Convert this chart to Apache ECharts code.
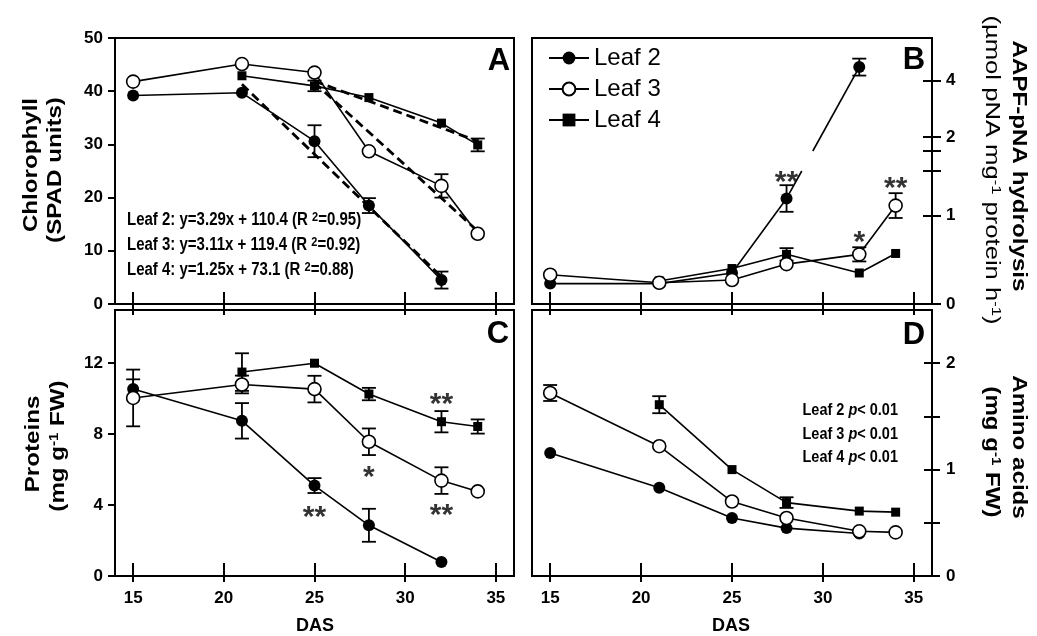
<!DOCTYPE html>
<html>
<head>
<meta charset="utf-8">
<script src="https://cdn.jsdelivr.net/npm/echarts@6.0.0/dist/echarts.min.js"></script>
<style>
  html, body { margin: 0; background: #fff; }
  #main { width: 1037px; height: 636px; }
</style>
</head>
<body>
<div id="main"></div>
<script>
// days after sowing
var das = [15, 21, 25, 28, 32, 34]
var dasTicks = [15, 20, 25, 30, 35]

// A - chlorophyll (SPAD units)
var chlL2 = [39.2, 39.7, 30.6, 18.5, 4.5, null]
var chlL3 = [41.8, 45.1, 43.5, 28.7, 22.2, 13.2]
var chlL4 = [null, 42.9, 41.0, 38.8, 34.0, 29.9]
var chlErrL2 = [0, 0, 3.0, 1.4, 1.6, 0]
var chlErrL3 = [0, 0, 0, 0, 2.2, 0]
var chlErrL4 = [0, 0, 1.0, 0, 0, 1.2]
// regression lines (end points)
var fitL2 = [[21, 41.3], [32, 5.1]]
var fitL3 = [[25, 41.6], [34, 13.7]]
var fitL4 = [[25, 41.9], [34, 30.6]]
var chlTicks = [0, 10, 20, 30, 40, 50]

// B - AAPF-pNA hydrolysis (broken axis)
var aapL2 = [0.23, 0.23, 0.35, 1.19, 4.47, null]
var aapL3 = [0.33, 0.24, 0.27, 0.45, 0.56, 1.11]
var aapL4 = [null, 0.26, 0.40, 0.56, 0.35, 0.57]
var aapErrL2 = [0, 0, 0, 0.15, 0.3, 0]
var aapErrL3 = [0, 0, 0, 0, 0.08, 0.14]
var aapErrL4 = [0, 0, 0, 0.07, 0, 0]
var aapBreak = 1.5
var aapLowTicks = [0, 1, 1.5]
var aapLowLabels = [0, 1]
var aapUpTicks = [1.5, 2, 4]
var aapUpLabels = [2, 4]
var aapStars = [[28, 1.45, '**'], [32, 0.77, '*'], [34, 1.38, '**']]

// C - proteins
var protL2 = [10.54, 8.75, 5.1, 2.86, 0.79, null]
var protL3 = [10.04, 10.8, 10.54, 7.57, 5.38, 4.77]
var protL4 = [null, 11.5, 12.0, 10.26, 8.7, 8.43]
var protErrL2 = [0.55, 1.0, 0.42, 0.93, 0, 0]
var protErrL3 = [1.6, 0.5, 0.75, 0.75, 0.75, 0]
var protErrL4 = [0, 1.06, 0, 0.35, 0.6, 0.4]
var protTicks = [0, 4, 8, 12]
var protStars = [[32, 10.04, '**'], [28, 5.95, '*'], [25, 3.7, '**'], [32, 3.81, '**']]

// D - amino acids
var aaL2 = [1.155, 0.83, 0.545, 0.45, 0.40, null]
var aaL3 = [1.72, 1.22, 0.70, 0.545, 0.42, 0.41]
var aaL4 = [null, 1.61, 1.0, 0.69, 0.61, 0.60]
var aaErrL2 = [0, 0, 0, 0, 0, 0]
var aaErrL3 = [0.075, 0, 0, 0, 0, 0]
var aaErrL4 = [0, 0.08, 0, 0.05, 0, 0]
var aaTicks = [0, 0.5, 1, 1.5, 2]
var aaLabels = [0, 1, 2]

var FONT = '"Liberation Sans", Arial, Helvetica, sans-serif'
var black = '#000'

function pts(vals) {
  var out = []
  for (var i = 0; i < das.length; i++) {
    if (vals[i] != null) out.push([das[i], vals[i]])
  }
  return out
}
function errPts(vals, errs, keep) {
  var out = []
  for (var i = 0; i < das.length; i++) {
    if (vals[i] == null || !errs[i]) continue
    if (keep && !keep(vals[i])) continue
    out.push([das[i], vals[i] - errs[i], vals[i] + errs[i]])
  }
  return out
}
function isLow(v) { return v <= aapBreak }
function isUp(v) { return v > aapBreak }

var styles = {
  'Leaf 2': { symbol: 'circle', size: 12, item: { color: black } },
  'Leaf 3': { symbol: 'circle', size: 13, item: { color: '#fff', borderColor: black, borderWidth: 1.6 } },
  'Leaf 4': { symbol: 'rect', size: 9, item: { color: black } }
}

var grids = [
  { left: 115, top: 38, width: 399, height: 266, show: true },   // A
  { left: 532, top: 38, width: 400, height: 266, show: true },   // B frame
  { left: 532, top: 38, width: 400, height: 113, show: false },  // B upper
  { left: 532, top: 171, width: 400, height: 133, show: false }, // B lower
  { left: 115, top: 310, width: 399, height: 266, show: true },  // C
  { left: 532, top: 310, width: 400, height: 266, show: true }   // D
]
grids.forEach(function (g) {
  g.borderColor = black
  g.borderWidth = 2
  g.backgroundColor = 'transparent'
  g.outerBoundsMode = 'none'
})

var tickLine = { color: black, width: 2 }
var labelFont = { color: black, fontSize: 17, fontWeight: 'bold', fontFamily: FONT }

function xAxisPair(gi, withLabels, outLen, inLen) {
  return [
    {
      type: 'value', gridIndex: gi, min: 14, max: 36, position: 'bottom',
      axisLine: { show: false, onZero: false },
      axisTick: { show: true, inside: false, length: outLen, customValues: dasTicks, lineStyle: tickLine },
      axisLabel: Object.assign({ show: withLabels, customValues: dasTicks, margin: 14 }, labelFont),
      splitLine: { show: false }
    },
    {
      type: 'value', gridIndex: gi, min: 14, max: 36, position: 'bottom',
      axisLine: { show: false, onZero: false },
      axisTick: { show: true, inside: true, length: inLen, customValues: dasTicks, lineStyle: tickLine },
      axisLabel: { show: false },
      splitLine: { show: false }
    }
  ]
}
function hiddenX(gi) {
  return { type: 'value', gridIndex: gi, min: 14, max: 36, show: false }
}
function yAxisCfg(gi, pos, min, max, ticks, labels, outLen, inLen) {
  var out = [{
    type: 'value', gridIndex: gi, position: pos, min: min, max: max,
    axisLine: { show: false, onZero: false },
    axisTick: { show: true, inside: false, length: outLen, customValues: ticks, lineStyle: tickLine },
    axisLabel: Object.assign({ show: true, customValues: labels, margin: pos === 'left' ? 12 : 14 }, labelFont),
    splitLine: { show: false }
  }]
  if (inLen) {
    out.push({
      type: 'value', gridIndex: gi, position: pos, min: min, max: max,
      axisLine: { show: false, onZero: false },
      axisTick: { show: true, inside: true, length: inLen, customValues: ticks, lineStyle: tickLine },
      axisLabel: { show: false },
      splitLine: { show: false }
    })
  }
  return out
}

var xAxes = []
  .concat(xAxisPair(0, false, 11, 12))  // 0,1  A
  .concat(xAxisPair(1, false, 11, 12))  // 2,3  B frame
  .concat([hiddenX(2), hiddenX(3)])     // 4,5  B upper / lower
  .concat(xAxisPair(4, true, 6, 13))    // 6,7  C
  .concat(xAxisPair(5, true, 6, 13))    // 8,9  D

var yAxes = []
  .concat(yAxisCfg(0, 'left', 0, 50, chlTicks, chlTicks, 7))                          // 0 A
  .concat([{ type: 'value', gridIndex: 1, min: 0, max: 1, show: false }])             // 1 B frame
  .concat(yAxisCfg(2, 'right', aapBreak, 5.5, aapUpTicks, aapUpLabels, 9, 9))         // 2,3 B upper
  .concat(yAxisCfg(3, 'right', 0, aapBreak, aapLowTicks, aapLowLabels, 9, 9))         // 4,5 B lower
  .concat(yAxisCfg(4, 'left', 0, 15, protTicks, protTicks, 7))                        // 6 C
  .concat(yAxisCfg(5, 'right', 0, 2.5, aaTicks, aaLabels, 8, 8))                      // 7,8 D

function lineSeries(name, xi, yi, data) {
  var s = styles[name]
  return {
    name: name, type: 'line', xAxisIndex: xi, yAxisIndex: yi, data: data,
    symbol: s.symbol, symbolSize: s.size, showSymbol: true, itemStyle: s.item,
    lineStyle: { color: black, width: 1.6 }, z: 3, clip: false,
    emphasis: { disabled: true }, animation: false
  }
}
function fitSeries(xi, yi, data) {
  return {
    name: 'fit', type: 'line', xAxisIndex: xi, yAxisIndex: yi, data: data, symbol: 'none',
    lineStyle: { color: black, width: 2.8, type: [9, 5] }, z: 2,
    emphasis: { disabled: true }, animation: false
  }
}
function errSeries(xi, yi, data) {
  return {
    name: 'err', type: 'custom', xAxisIndex: xi, yAxisIndex: yi, data: data, z: 2,
    silent: true, clip: false, animation: false,
    encode: { x: 0, y: [1, 2] },
    renderItem: function (params, api) {
      var top = api.coord([api.value(0), api.value(2)])
      var bot = api.coord([api.value(0), api.value(1)])
      var w = 7
      var st = { stroke: black, lineWidth: 1.8 }
      return {
        type: 'group', children: [
          { type: 'line', shape: { x1: top[0], y1: top[1], x2: bot[0], y2: bot[1] }, style: st },
          { type: 'line', shape: { x1: top[0] - w, y1: top[1], x2: top[0] + w, y2: top[1] }, style: st },
          { type: 'line', shape: { x1: bot[0] - w, y1: bot[1], x2: bot[0] + w, y2: bot[1] }, style: st }
        ]
      }
    }
  }
}
function starSeries(xi, yi, stars) {
  return {
    name: 'stars', type: 'scatter', xAxisIndex: xi, yAxisIndex: yi, symbolSize: 2,
    itemStyle: { color: 'rgba(0,0,0,0)' }, silent: true, z: 5, animation: false,
    data: stars.map(function (s) { return { name: s[2], value: [s[0], s[1]] } }),
    label: {
      show: true, position: 'inside', formatter: '{b}', fontSize: 30, fontWeight: 'bold',
      color: black, fontFamily: FONT, offset: [0, 7]
    }
  }
}

var series = []
// A
series.push(fitSeries(0, 0, fitL2), fitSeries(0, 0, fitL3), fitSeries(0, 0, fitL4))
series.push(errSeries(0, 0, errPts(chlL2, chlErrL2)), errSeries(0, 0, errPts(chlL3, chlErrL3)), errSeries(0, 0, errPts(chlL4, chlErrL4)))
series.push(lineSeries('Leaf 2', 0, 0, pts(chlL2)), lineSeries('Leaf 4', 0, 0, pts(chlL4)), lineSeries('Leaf 3', 0, 0, pts(chlL3)))
// B (lower part of the broken axis, then upper)
series.push(errSeries(5, 4, errPts(aapL2, aapErrL2, isLow)), errSeries(5, 4, errPts(aapL3, aapErrL3, isLow)), errSeries(5, 4, errPts(aapL4, aapErrL4, isLow)))
series.push(errSeries(4, 2, errPts(aapL2, aapErrL2, isUp)))
var sLow = series.length
series.push(lineSeries('Leaf 2', 5, 4, pts(aapL2).filter(function (p) { return isLow(p[1]) })))
var sUp = series.length
series.push(lineSeries('Leaf 2', 4, 2, pts(aapL2).filter(function (p) { return isUp(p[1]) })))
series.push(lineSeries('Leaf 4', 5, 4, pts(aapL4)), lineSeries('Leaf 3', 5, 4, pts(aapL3)))
series.push(starSeries(5, 4, aapStars))
// C
series.push(errSeries(6, 6, errPts(protL2, protErrL2)), errSeries(6, 6, errPts(protL3, protErrL3)), errSeries(6, 6, errPts(protL4, protErrL4)))
series.push(lineSeries('Leaf 2', 6, 6, pts(protL2)), lineSeries('Leaf 4', 6, 6, pts(protL4)), lineSeries('Leaf 3', 6, 6, pts(protL3)))
series.push(starSeries(6, 6, protStars))
// D
series.push(errSeries(8, 7, errPts(aaL2, aaErrL2)), errSeries(8, 7, errPts(aaL3, aaErrL3)), errSeries(8, 7, errPts(aaL4, aaErrL4)))
series.push(lineSeries('Leaf 2', 8, 7, pts(aaL2)), lineSeries('Leaf 4', 8, 7, pts(aaL4)), lineSeries('Leaf 3', 8, 7, pts(aaL3)))

var option = {
  backgroundColor: '#fff',
  animation: false,
  grid: grids,
  xAxis: xAxes,
  yAxis: yAxes,
  legend: {
    data: ['Leaf 2', 'Leaf 3', 'Leaf 4'],
    orient: 'vertical', left: 548, top: 46, padding: 0,
    itemWidth: 40, itemHeight: 16, itemGap: 7,
    selectedMode: false,
    textStyle: { fontSize: 24, color: black, fontFamily: FONT, lineHeight: 24 }
  },
  series: series
}

var chart = echarts.init(document.getElementById('main'))
chart.setOption(option)

// texts; the source figure is stretched vertically, hence the scale factors
function txt(text, x, y, rot, size, opts) {
  opts = opts || {}
  var weight = opts.weight || 'bold'
  return {
    type: 'text', x: x, y: y, rotation: rot || 0, z: 10,
    scaleX: opts.sx || 1, scaleY: opts.sy || 1,
    style: {
      text: text, fill: black, fontSize: size, fontWeight: weight,
      fontFamily: FONT, align: opts.align || 'center', verticalAlign: 'middle',
      rich: {
        sup: { fontSize: opts.supSize || 13, fontWeight: weight, fontFamily: FONT, fill: black, verticalAlign: 'top' },
        it: { fontStyle: 'italic', fontWeight: weight, fontSize: size, fontFamily: FONT, fill: black }
      }
    }
  }
}
var up = Math.PI / 2
var tScale = { sx: 1.15 }
var graphics = [
  txt('Chlorophyll', 31, 165, up, 21, tScale),
  txt('(SPAD units)', 55, 170, up, 21, tScale),
  txt('Proteins', 33, 444, up, 21, tScale),
  txt('(mg g{sup|-1} FW)', 58, 446, up, 21, tScale),
  txt('AAPF-pNA hydrolysis', 1019, 166, -up, 21, tScale),
  txt('(µmol pNA mg{sup|-1} protein h{sup|-1})', 992, 170, -up, 20, { sx: 1.28, weight: 'normal' }),
  txt('Amino acids', 1019, 447, -up, 21, tScale),
  txt('(mg g{sup|-1} FW)', 992, 452, -up, 21, tScale),
  txt('DAS', 315, 626, 0, 18),
  txt('DAS', 731, 626, 0, 18),
  txt('A', 499, 61, 0, 31),
  txt('B', 914, 60, 0, 31),
  txt('C', 498, 334, 0, 31),
  txt('D', 914, 335, 0, 31),
  txt('Leaf 2: y=3.29x + 110.4 (R {sup|2}=0.95)', 127, 220, 0, 15, { align: 'left', sy: 1.2, supSize: 11 }),
  txt('Leaf 3: y=3.11x + 119.4 (R {sup|2}=0.92)', 127, 245, 0, 15, { align: 'left', sy: 1.2, supSize: 11 }),
  txt('Leaf 4: y=1.25x + 73.1 (R {sup|2}=0.88)', 127, 270, 0, 15, { align: 'left', sy: 1.2, supSize: 11 }),
  txt('Leaf 2 {it|p}< 0.01', 898, 410, 0, 14.5, { align: 'right', sy: 1.2 }),
  txt('Leaf 3 {it|p}< 0.01', 898, 434, 0, 14.5, { align: 'right', sy: 1.2 }),
  txt('Leaf 4 {it|p}< 0.01', 898, 457, 0, 14.5, { align: 'right', sy: 1.2 })
]

// leaf 2 line across the axis break in panel B
var lowPts = pts(aapL2).filter(function (p) { return isLow(p[1]) })
var upPts = pts(aapL2).filter(function (p) { return isUp(p[1]) })
var pa = chart.convertToPixel({ seriesIndex: sLow }, lowPts[lowPts.length - 1])
var pb = chart.convertToPixel({ seriesIndex: sUp }, upPts[0])
var yLowTop = chart.convertToPixel({ seriesIndex: sLow }, [lowPts[lowPts.length - 1][0], aapBreak])[1]
var yUpBot = chart.convertToPixel({ seriesIndex: sUp }, [upPts[0][0], aapBreak])[1]
function atY(y) {
  var t = (y - pa[1]) / (pb[1] - pa[1])
  return [pa[0] + t * (pb[0] - pa[0]), y]
}
var q1 = atY(yLowTop)
var q2 = atY(yUpBot)
graphics.push(
  { type: 'line', z: 1, shape: { x1: pa[0], y1: pa[1], x2: q1[0], y2: q1[1] }, style: { stroke: black, lineWidth: 1.6 } },
  { type: 'line', z: 1, shape: { x1: q2[0], y1: q2[1], x2: pb[0], y2: pb[1] }, style: { stroke: black, lineWidth: 1.6 } }
)
chart.setOption({ graphic: graphics })
</script>
</body>
</html>
